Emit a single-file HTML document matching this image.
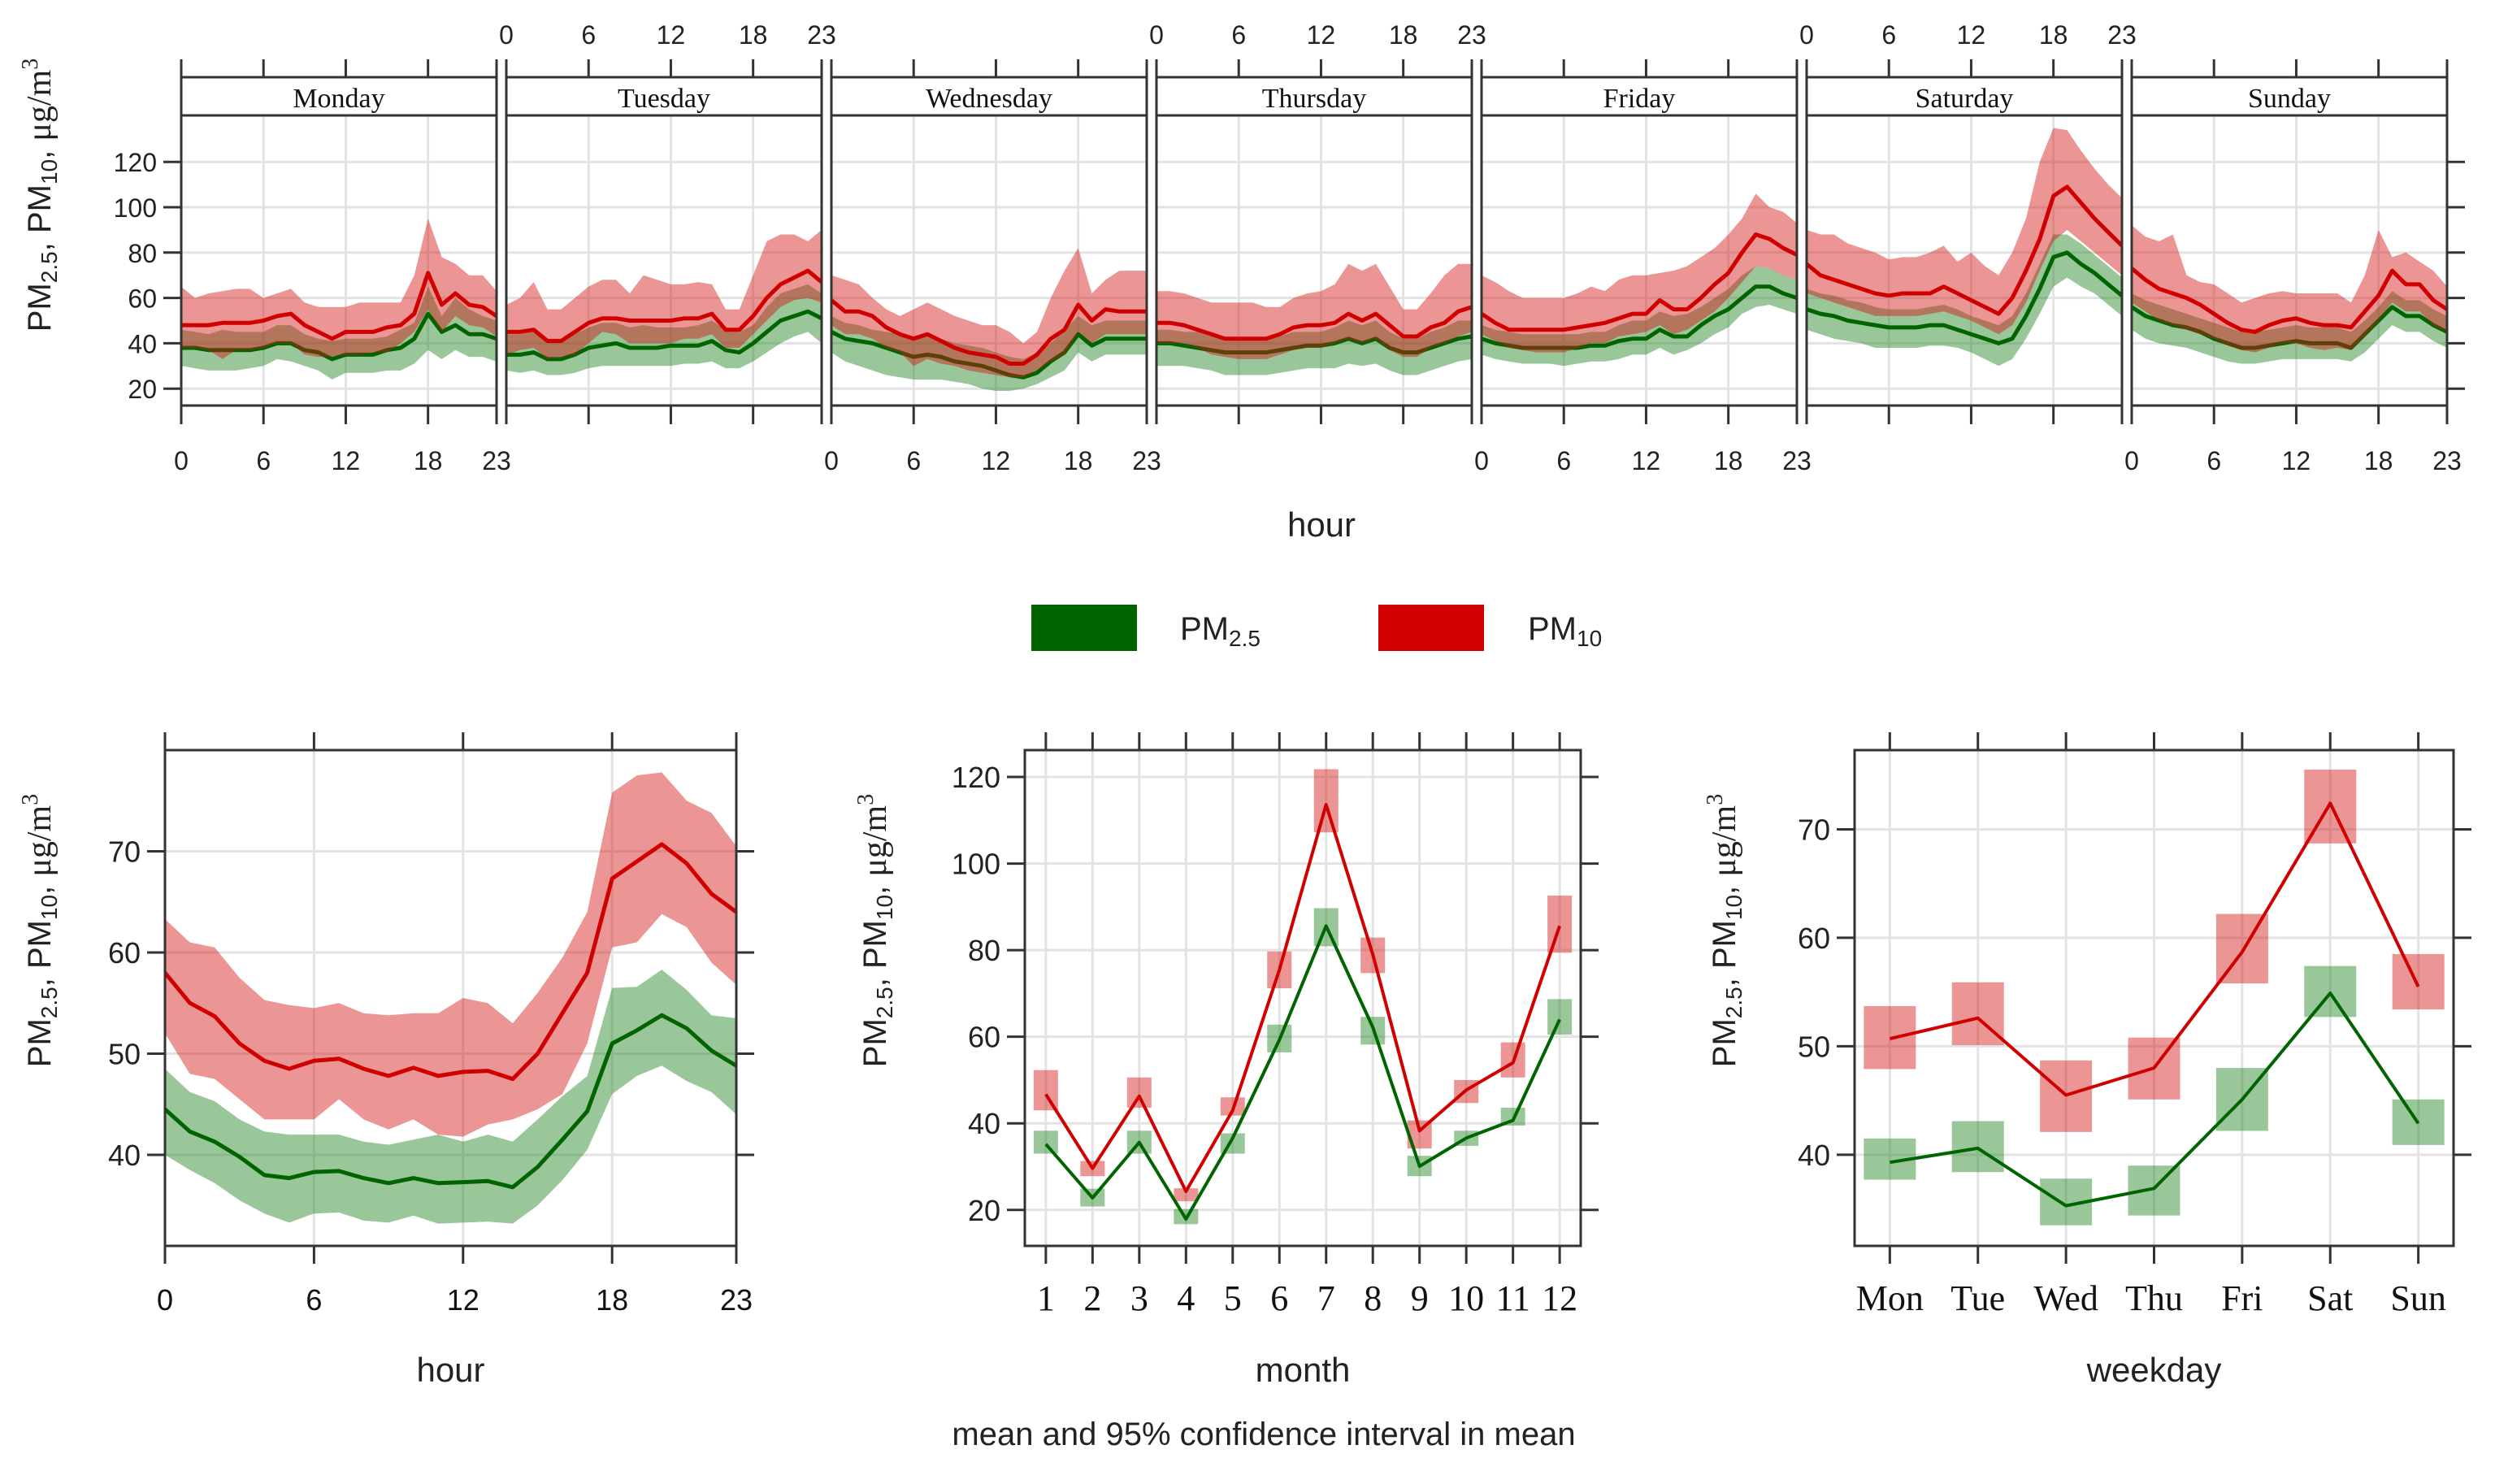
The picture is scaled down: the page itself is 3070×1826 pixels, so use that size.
<!DOCTYPE html>
<html><head><meta charset="utf-8">
<style>
html,body{margin:0;padding:0;background:#fff;}
svg{display:block;}
.sans{font-family:"Liberation Sans",sans-serif;}
.serif{font-family:"Liberation Serif",serif;}
</style></head>
<body>
<svg id="chart" width="3070" height="1826" viewBox="0 0 3070 1826" xmlns="http://www.w3.org/2000/svg">
<rect x="0" y="0" width="3070" height="1826" fill="#fff"/>
<g id="top"></g>
<g id="bl"></g>
<g id="bm"></g>
<g id="br"></g>
<g id="legend">
 <rect x="1269" y="744" width="130" height="57" fill="#006400"/>
 <text class="sans" x="1452" y="787" font-size="40" fill="#222">PM<tspan font-size="28" dy="8">2.5</tspan></text>
 <rect x="1696" y="744" width="130" height="57" fill="#d00000"/>
 <text class="sans" x="1880" y="787" font-size="40" fill="#222">PM<tspan font-size="28" dy="8">10</tspan></text>
</g>
<text class="sans" x="1626" y="660" font-size="42" text-anchor="middle" fill="#222">hour</text>
<text class="sans" x="1555" y="1778" font-size="40" text-anchor="middle" fill="#222">mean and 95% confidence interval in mean</text>
</svg>
<script>
// ---------- data: weekly panels (hour 0..23) ----------
const days = ["Monday","Tuesday","Wednesday","Thursday","Friday","Saturday","Sunday"];
const hours = [0,1,2,3,4,5,6,7,8,9,10,11,12,13,14,15,16,17,18,19,20,21,22,23];
const monPM10 = [48,48,48,49,49,49,50,52,53,48,45,42,45,45,45,47,48,53,71,57,62,57,56,52];
const monPM10hi = [65,60,62,63,64,64,60,62,64,58,56,56,56,58,58,58,58,70,95,78,75,70,70,63];
const monPM10lo = [38,38,37,33,37,37,38,40,40,35,34,34,35,35,36,36,40,45,55,45,52,48,47,43];
const monPM25 = [38,38,37,37,37,37,38,40,40,37,36,33,35,35,35,37,38,42,53,45,48,44,44,42];
const monPM25hi = [46,45,44,46,45,45,45,48,48,44,42,41,42,42,42,43,46,49,65,52,60,55,52,50];
const monPM25lo = [30,29,28,28,28,29,30,33,32,30,28,24,27,27,27,28,28,31,37,33,37,34,34,32];
const tuePM10 = [45,45,46,41,41,45,49,51,51,50,50,50,50,51,51,53,46,46,52,60,66,69,72,67];
const tuePM10hi = [57,60,67,55,55,60,65,68,68,62,70,68,66,66,67,66,55,55,70,85,88,88,85,90];
const tuePM10lo = [35,37,38,33,34,35,40,45,44,40,40,40,40,42,42,44,38,38,44,50,56,59,60,58];
const tuePM25 = [35,35,36,33,33,35,38,39,40,38,38,38,39,39,39,41,37,36,40,45,50,52,54,51];
const tuePM25hi = [44,44,45,42,42,44,47,49,49,47,48,47,47,47,48,50,46,45,48,56,62,64,66,62];
const tuePM25lo = [28,27,28,26,26,27,29,30,30,30,30,30,30,31,31,32,29,29,32,36,40,43,45,40];
const wedPM10 = [59,54,54,52,47,44,42,44,41,38,36,35,34,31,31,35,42,46,57,50,55,54,54,54];
const wedPM10hi = [70,68,66,60,55,52,55,58,55,52,50,48,48,45,40,45,60,72,82,62,68,72,72,72];
const wedPM10lo = [48,44,44,42,38,36,30,33,31,30,28,27,26,25,25,28,32,35,45,40,44,44,44,44];
const wedPM25 = [45,42,41,40,38,36,34,35,34,32,31,30,28,26,25,27,32,36,44,39,42,42,42,42];
const wedPM25hi = [52,49,48,46,45,44,42,43,42,40,39,38,36,34,33,36,40,46,52,48,50,50,50,50];
const wedPM25lo = [36,32,30,28,26,25,24,24,24,23,22,20,19,19,20,22,25,28,36,32,35,35,35,35];
const thuPM10 = [49,49,48,46,44,42,42,42,42,44,47,48,48,49,53,50,53,48,43,43,47,49,54,56];
const thuPM10hi = [63,63,62,60,58,58,58,58,56,56,60,62,63,66,75,72,75,65,55,55,62,70,75,75];
const thuPM10lo = [40,40,40,38,35,34,33,33,33,35,37,38,38,40,42,40,42,37,34,34,38,40,43,45];
const thuPM25 = [40,40,39,38,37,36,36,36,36,37,38,39,39,40,42,40,42,38,36,36,38,40,42,43];
const thuPM25hi = [46,46,45,45,43,42,42,42,42,43,45,45,45,47,50,48,50,45,42,42,45,47,50,50];
const thuPM25lo = [30,30,30,29,28,26,26,26,26,27,28,29,29,29,31,30,31,28,26,26,28,30,32,33];
const friPM10 = [53,49,46,46,46,46,46,47,48,49,51,53,53,59,55,55,60,66,71,80,88,86,82,79];
const friPM10hi = [70,67,63,60,60,60,60,62,65,63,68,70,70,71,72,74,78,82,88,95,106,100,98,93];
const friPM10lo = [44,41,38,37,36,36,36,38,40,40,43,44,45,48,44,46,50,54,60,67,74,73,70,68];
const friPM25 = [42,40,39,38,38,38,38,38,39,39,41,42,42,46,43,43,48,52,55,60,65,65,62,60];
const friPM25hi = [48,46,45,44,44,44,44,44,45,45,48,50,50,54,52,53,56,60,64,70,74,73,70,68];
const friPM25lo = [35,33,32,31,31,31,30,31,32,32,33,35,35,38,35,37,40,44,47,53,56,57,55,53];
const satPM10 = [75,70,68,66,64,62,61,62,62,62,65,62,59,56,53,60,72,86,105,109,102,95,89,83];
const satPM10hi = [90,88,88,84,82,80,77,78,78,80,83,76,80,74,70,80,95,120,135,134,125,117,110,104];
const satPM10lo = [62,60,58,56,54,52,52,52,52,53,54,52,50,47,44,48,58,72,85,90,85,80,75,70];
const satPM25 = [55,53,52,50,49,48,47,47,47,48,48,46,44,42,40,42,52,64,78,80,75,71,66,61];
const satPM25hi = [64,62,61,59,58,56,55,55,55,56,57,55,52,50,48,52,62,75,88,88,84,79,74,69];
const satPM25lo = [46,44,42,41,40,38,38,38,38,39,39,38,36,33,30,33,42,53,65,69,65,62,57,52];
const sunPM10 = [73,68,64,62,60,57,53,49,46,45,48,50,51,49,48,48,47,54,61,72,66,66,59,55];
const sunPM10hi = [92,87,85,88,70,67,66,62,58,60,62,63,62,62,62,62,58,70,90,78,80,76,72,65];
const sunPM10lo = [58,54,50,48,46,44,42,39,37,36,38,40,40,38,37,38,37,43,50,58,54,54,48,45];
const sunPM25 = [56,52,50,48,47,45,42,40,38,38,39,40,41,40,40,40,38,44,50,56,52,52,48,45];
const sunPM25hi = [62,59,57,55,53,51,49,47,45,45,46,47,48,47,47,47,45,50,56,63,59,59,55,52];
const sunPM25lo = [46,42,40,39,38,36,34,32,31,31,32,33,33,33,33,33,32,36,42,48,45,45,41,38];
const topYTicks = [20,40,60,80,100,120];
const hourTicks = [0,6,12,18,23];

// ---------- data: overall hour ----------
const hPM10 = [58,55,53.7,51,49.3,48.5,49.3,49.5,48.5,47.8,48.6,47.8,48.2,48.3,47.5,50,54,58,67.3,69,70.7,68.8,65.8,64];
const hPM10hi = [63.3,61,60.5,57.5,55.3,54.8,54.5,55,54,53.8,54,54,55.5,55,53,56,59.5,64,75.8,77.5,77.8,75,73.8,70.5];
const hPM10lo = [52,48,47.5,45.5,43.5,43.5,43.5,45.5,43.5,42.5,43.5,42,41.8,43,43.5,44.5,46,51,60.5,61,63.8,62.5,59,56.8];
const hPM25 = [44.5,42.3,41.3,39.8,38,37.7,38.3,38.4,37.7,37.2,37.7,37.2,37.3,37.4,36.8,38.8,41.5,44.3,51,52.3,53.8,52.5,50.3,48.8];
const hPM25hi = [48.5,46.2,45.3,43.5,42.3,42,42,42,41.3,41,41.5,42,41.3,42,41.3,43.5,45.8,47.8,56.5,56.6,58.3,56.3,53.8,53.5];
const hPM25lo = [40,38.5,37.2,35.5,34.2,33.3,34.2,34.3,33.5,33.3,34,33.2,33.3,33.4,33.2,35,37.5,40.5,46,47.8,48.8,47.3,46.2,44];
const hYTicks = [40,50,60,70];

// ---------- data: month ----------
const months = ["1","2","3","4","5","6","7","8","9","10","11","12"];
const mPM10 = [46.7,29.6,46.3,24.3,43,75.5,113.6,79,38.3,47.7,54,85.6];
const mPM10hi = [52.3,31.3,50.6,25,46,79.7,121.8,82.9,40.7,50,58.7,92.6];
const mPM10lo = [43,27.8,43.6,22,41.8,71.2,107.2,74.7,34.2,44.7,50.6,79.4];
const mPM25 = [35.2,22.8,35.6,17.9,36.6,59.3,85.6,62.2,30.1,36.6,40.7,64];
const mPM25hi = [38.3,24.9,38.3,20.2,37.7,62.8,89.7,64.6,32.5,38.3,43.6,68.7];
const mPM25lo = [33,20.8,33,16.7,33,56.4,80.9,58.2,27.8,34.8,39.5,60.5];
const mYTicks = [20,40,60,80,100,120];

// ---------- data: weekday ----------
const wdays = ["Mon","Tue","Wed","Thu","Fri","Sat","Sun"];
const wPM10 = [50.7,52.6,45.5,48,58.7,72.4,55.5];
const wPM10hi = [53.7,55.9,48.7,50.8,62.2,75.5,58.5];
const wPM10lo = [47.9,50.1,42.1,45.1,55.8,68.7,53.4];
const wPM25 = [39.3,40.6,35.3,36.9,45.1,54.9,42.9];
const wPM25hi = [41.5,43.1,37.8,39,48,57.4,45.1];
const wPM25lo = [37.7,38.4,33.5,34.4,42.2,52.7,40.9];
const wYTicks = [40,50,60,70];

const dayData = [
 [monPM10,monPM10hi,monPM10lo,monPM25,monPM25hi,monPM25lo],
 [tuePM10,tuePM10hi,tuePM10lo,tuePM25,tuePM25hi,tuePM25lo],
 [wedPM10,wedPM10hi,wedPM10lo,wedPM25,wedPM25hi,wedPM25lo],
 [thuPM10,thuPM10hi,thuPM10lo,thuPM25,thuPM25hi,thuPM25lo],
 [friPM10,friPM10hi,friPM10lo,friPM25,friPM25hi,friPM25lo],
 [satPM10,satPM10hi,satPM10lo,satPM25,satPM25hi,satPM25lo],
 [sunPM10,sunPM10hi,sunPM10lo,sunPM25,sunPM25hi,sunPM25lo]
];

const NS = "http://www.w3.org/2000/svg";
const RED = "#d00000", REDF = "#d21414", GREEN = "#006400", GREENF = "#1e821e", FOP = 0.45;
function mk(tag, attrs, parent){ const e=document.createElementNS(NS,tag); for(const k in attrs) e.setAttribute(k,attrs[k]); if(parent) parent.appendChild(e); return e; }
function txt(parent, x, y, s, size, cls, anchor, fill){ const t=mk("text",{x:x,y:y,"font-size":size,class:cls,"text-anchor":anchor||"middle",fill:fill||"#222"},parent); t.textContent=s; return t; }
function band(parent, xs, hi, lo, sx, sy, color, name, clipId){
  let d="M"+xs.map((v,i)=>sx(v).toFixed(1)+","+sy(hi[i]).toFixed(1)).join("L");
  d+="L"+xs.map((v,i)=>sx(v).toFixed(1)+","+sy(lo[i]).toFixed(1)).reverse().join("L")+"Z";
  const p=mk("path",{d:d,fill:color,"fill-opacity":FOP,stroke:"none"},parent);
  if(clipId) p.setAttribute("clip-path","url(#"+clipId+")");
  
  
}
function line(parent, xs, ys, sx, sy, color, w, name, clipId){
  const p=mk("polyline",{points:xs.map((v,i)=>sx(v).toFixed(1)+","+sy(ys[i]).toFixed(1)).join(" "),fill:"none",stroke:color,"stroke-width":w,"stroke-linejoin":"round"},parent);
  if(clipId) p.setAttribute("clip-path","url(#"+clipId+")");
  
  
}
function ytitle(parent, x, y, name){
  const t=mk("text",{transform:"translate("+x+","+y+") rotate(-90)","text-anchor":"middle","font-size":40,fill:"#222",class:"sans"},parent);
  t.innerHTML='PM<tspan font-size="28" dy="8">2.5</tspan><tspan dy="-8">, PM</tspan><tspan font-size="28" dy="8">10</tspan><tspan dy="-8">,  </tspan><tspan class="serif" font-size="42">μg/m</tspan><tspan class="serif" font-size="28" dy="-16">3</tspan>';
  
  
}
const defs = mk("defs",{},document.getElementById("chart"));

// ---------- top panels ----------
(function(){
  const g=document.getElementById("top");
  const PT=142, PB=499, SY0=534, SPU=2.79, W=388;
  const sy=v=>SY0-v*SPU;
  ytitle(g,62,240,"top-y-axis-title");
  days.forEach((day,i)=>{
    const L=223+400*i, R=L+W;
    const sx=h=>L+(h/23)*W;
    const pg=mk("g",{},g);
    
    
    const cid="clipTop"+i;
    const cp=mk("clipPath",{id:cid},defs); mk("rect",{x:L,y:PT,width:W,height:PB-PT},cp);
    [6,12,18].forEach(h=>mk("line",{x1:sx(h),x2:sx(h),y1:PT,y2:PB,stroke:"#e3e3e3","stroke-width":3},pg));
    topYTicks.forEach(v=>mk("line",{x1:L,x2:R,y1:sy(v),y2:sy(v),stroke:"#e3e3e3","stroke-width":3},pg));
    const d=dayData[i];
    band(pg,hours,d[4],d[5],sx,sy,GREENF,"pm25-ci-"+day.toLowerCase(),cid);
    line(pg,hours,d[3],sx,sy,GREEN,5,"pm25-line-"+day.toLowerCase(),cid);
    band(pg,hours,d[1],d[2],sx,sy,REDF,"pm10-ci-"+day.toLowerCase(),cid);
    line(pg,hours,d[0],sx,sy,RED,5,"pm10-line-"+day.toLowerCase(),cid);
    mk("rect",{x:L,y:95,width:W,height:PT-95,fill:"#fff",stroke:"#333","stroke-width":3},pg);
    const st=txt(pg,L+W/2,132,day,34,"serif","middle","#111");
    
    
    mk("rect",{x:L,y:PT,width:W,height:PB-PT,fill:"none",stroke:"#333","stroke-width":3},pg);
    hourTicks.forEach(h=>{
      mk("line",{x1:sx(h),x2:sx(h),y1:73,y2:95,stroke:"#333","stroke-width":3},pg);
      mk("line",{x1:sx(h),x2:sx(h),y1:PB,y2:522,stroke:"#333","stroke-width":3},pg);
      if(i%2===1){ txt(pg,sx(h),54,String(h),32,"sans","middle","#222"); }
      else { txt(pg,sx(h),578,String(h),32,"sans","middle","#222"); }
    });
    if(i===0){ topYTicks.forEach(v=>{ mk("line",{x1:L-22,x2:L,y1:sy(v),y2:sy(v),stroke:"#333","stroke-width":3},pg); txt(pg,L-30,sy(v)+12,String(v),32,"sans","end","#222"); }); }
    if(i===6){ topYTicks.forEach(v=>mk("line",{x1:R,x2:R+22,y1:sy(v),y2:sy(v),stroke:"#333","stroke-width":3},pg)); }
  });
})();

// ---------- bottom panel helper ----------
function bottomPanel(gid, L, R, ymin, ymax, yticks, xs, xlabels, xmin, xmax, series, xtitle, ytx, tickFont, tickCls, name){
  const g=document.getElementById(gid);
  
  
  const T=923, B=1533;
  const sx=v=>L+(v-xmin)/(xmax-xmin)*(R-L);
  const sy=v=>B-(v-ymin)/(ymax-ymin)*(B-T);
  const cid="clip"+gid; const cp=mk("clipPath",{id:cid},defs); mk("rect",{x:L,y:T,width:R-L,height:B-T},cp);
  xs.forEach(x=>mk("line",{x1:sx(x),x2:sx(x),y1:T,y2:B,stroke:"#e3e3e3","stroke-width":3},g));
  yticks.forEach(v=>mk("line",{x1:L,x2:R,y1:sy(v),y2:sy(v),stroke:"#e3e3e3","stroke-width":3},g));
  series(g,sx,sy,cid);
  mk("rect",{x:L,y:T,width:R-L,height:B-T,fill:"none",stroke:"#333","stroke-width":3},g);
  xs.forEach((x,i)=>{
    mk("line",{x1:sx(x),x2:sx(x),y1:T-22,y2:T,stroke:"#333","stroke-width":3},g);
    mk("line",{x1:sx(x),x2:sx(x),y1:B,y2:B+22,stroke:"#333","stroke-width":3},g);
    const t=txt(g,sx(x),1612,xlabels[i],tickFont,tickCls,"middle","#111");
    
    
  });
  yticks.forEach(v=>{
    mk("line",{x1:L-22,x2:L,y1:sy(v),y2:sy(v),stroke:"#333","stroke-width":3},g);
    mk("line",{x1:R,x2:R+22,y1:sy(v),y2:sy(v),stroke:"#333","stroke-width":3},g);
    const t=txt(g,L-30,sy(v)+13,String(v),36,"sans","end","#222");
    
    
  });
  const xt=txt(g,(L+R)/2,1700,xtitle,42,"sans","middle","#222");
  
  
  ytitle(g,ytx,1145,"y-axis-title");
}

bottomPanel("bl",203,906,31,80,hYTicks,hourTicks,hourTicks.map(String),0,23,(g,sx,sy,cid)=>{
  band(g,hours,hPM25hi,hPM25lo,sx,sy,GREENF,"pm25-ci-hour",cid);
  line(g,hours,hPM25,sx,sy,GREEN,5,"pm25-line-hour",cid);
  band(g,hours,hPM10hi,hPM10lo,sx,sy,REDF,"pm10-ci-hour",cid);
  line(g,hours,hPM10,sx,sy,RED,5,"pm10-line-hour",cid);
},"hour",62,36,"sans","hour-panel");

function boxSeries(cats, mean, hi, lo, halfW){
  return function(g,sx,sy,cid,color,lcolor,prefix){
    const idx=cats.map((c,i)=>i+1);
    cats.forEach((c,i)=>{
      const r=mk("rect",{x:sx(i+1)-halfW,y:sy(hi[i]),width:2*halfW,height:sy(lo[i])-sy(hi[i]),fill:color,"fill-opacity":FOP,"clip-path":"url(#"+cid+")"},g);
      
      
    });
    line(g,idx,mean,sx,sy,lcolor,4,prefix+"-line",cid);
  };
}
const monthIdx = months.map((m,i)=>i+1);
bottomPanel("bm",1261,1945,11.7,126.2,mYTicks,monthIdx,months,0.55,12.45,(g,sx,sy,cid)=>{
  boxSeries(months,mPM10,mPM10hi,mPM10lo,15)(g,sx,sy,cid,REDF,RED,"pm10-month");
  boxSeries(months,mPM25,mPM25hi,mPM25lo,15)(g,sx,sy,cid,GREENF,GREEN,"pm25-month");
},"month",1090,44,"serif","month-panel");

const wIdx = wdays.map((d,i)=>i+1);
bottomPanel("br",2282,3019,31.6,77.3,wYTicks,wIdx,wdays,0.6,7.4,(g,sx,sy,cid)=>{
  boxSeries(wdays,wPM10,wPM10hi,wPM10lo,32)(g,sx,sy,cid,REDF,RED,"pm10-weekday");
  boxSeries(wdays,wPM25,wPM25hi,wPM25lo,32)(g,sx,sy,cid,GREENF,GREEN,"pm25-weekday");
},"weekday",2135,44,"serif","weekday-panel");
</script>
</body></html>
